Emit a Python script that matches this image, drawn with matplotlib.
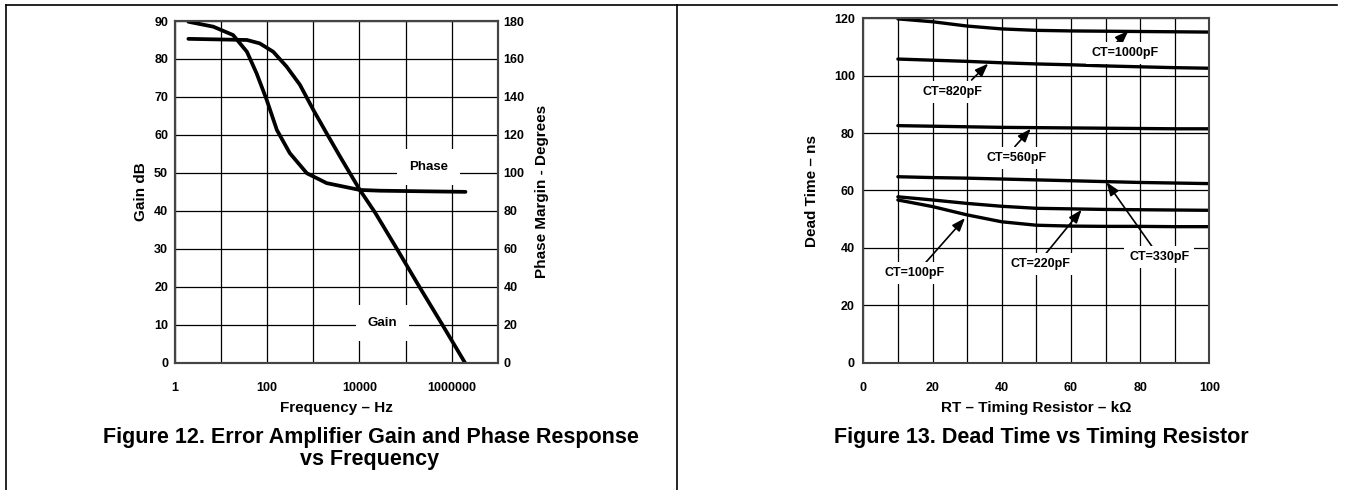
import numpy as np
import matplotlib
matplotlib.use("Agg")
import matplotlib.pyplot as plt
from matplotlib.lines import Line2D

plt.rcParams['font.family'] = ['Liberation Sans', 'DejaVu Sans']
plt.rcParams['font.weight'] = 'bold'

# Figure 12 data
gain_freq = [1.95, 36.3, 69, 135, 263, 513, 1000, 1950, 3800, 10230, 22000, 65000, 200000, 630000, 1950000]
gain_db = [85.3, 85.0, 84.1, 81.9, 78.0, 73.2, 66.6, 60.4, 54.3, 45.5, 39.5, 30.0, 20.0, 10.0, 0.0]
phase_freq = [1.95, 6.8, 18.2, 36.3, 58.9, 97.7, 162, 309, 724, 1950, 10230, 28200, 2000000]
phase_deg = [179.6, 177.0, 172.6, 163.8, 152.4, 138.4, 122.6, 110.4, 99.8, 94.6, 91.0, 90.6, 90.0]
freq_ticks = [1, 10, 100, 1000, 10000, 100000, 1000000, 10000000]
freq_labels = ['1', '', '100', '', '10000', '', '1000000', '']

# Figure 13 data
rt = [10, 20, 30, 40, 50, 60, 70, 80, 90, 100]
dead_time = {
    'CT=1000pF': [119.8, 118.8, 117.3, 116.3, 115.8, 115.6, 115.5, 115.4, 115.3, 115.2],
    'CT=820pF': [105.8, 105.4, 105.0, 104.5, 104.1, 103.8, 103.4, 103.1, 102.8, 102.6],
    'CT=560pF': [82.6, 82.4, 82.2, 82.0, 81.9, 81.8, 81.7, 81.6, 81.5, 81.5],
    'CT=330pF': [64.8, 64.5, 64.3, 64.0, 63.7, 63.4, 63.1, 62.8, 62.6, 62.4],
    'CT=220pF': [57.8, 56.7, 55.5, 54.5, 53.8, 53.6, 53.4, 53.3, 53.2, 53.1],
    'CT=100pF': [56.7, 54.4, 51.5, 49.1, 47.9, 47.6, 47.5, 47.5, 47.4, 47.4],
}
# label position, arrow tail, arrow tip
ct_notes = {
    'CT=1000pF': [(75.6, 107.8), (72.7, 111.0), (76.6, 115.6)],
    'CT=820pF': [(25.8, 94.4), (31.3, 98.5), (36.1, 104.2)],
    'CT=560pF': [(44.3, 71.2), (43.8, 75.3), (48.4, 81.5)],
    'CT=330pF': [(85.5, 36.9), (83.8, 39.9), (70.3, 62.9)],
    'CT=220pF': [(51.3, 34.4), (52.0, 36.9), (63.1, 53.3)],
    'CT=100pF': [(14.9, 31.4), (17.8, 34.6), (29.4, 50.4)],
}

W, H = 1349, 490
fig = plt.figure(figsize=(W / 100, H / 100), dpi=100)


def px_axes(x0, y0, x1, y1):
    return fig.add_axes([x0 / W, 1 - y1 / H, (x1 - x0) / W, (y1 - y0) / H])


def style(ax):
    for s in ax.spines.values():
        s.set_color('#444444')
        s.set_linewidth(1.5)
    ax.tick_params(length=0, labelsize=9)


# ---- Figure 12 ----
ax1 = px_axes(175, 21, 497.7, 362.7)
ax1.set_xscale('log')
ax1.set_xlim(1, 1e7)
ax1.set_ylim(0, 90)
ax1.set_xticks(freq_ticks)
ax1.set_xticklabels(freq_labels)
ax1.minorticks_off()
ax1.set_yticks(np.arange(0, 91, 10))
ax1.grid(True, color='black', lw=0.9)
style(ax1)
ax1.tick_params(axis='x', pad=14)
ax1.tick_params(axis='y', pad=5)
ax1.plot(gain_freq, gain_db, color='black', lw=2.7, solid_capstyle='round')
ax1.set_xlabel('Frequency – Hz', fontsize=11, fontweight='bold', labelpad=5)
ax1.set_ylabel('Gain dB', fontsize=11, fontweight='bold', labelpad=4)

ax2 = ax1.twinx()
ax2.set_ylim(0, 180)
ax2.set_yticks(np.arange(0, 181, 20))
style(ax2)
ax2.tick_params(axis='y', pad=4)
ax2.plot(phase_freq, phase_deg, color='black', lw=2.7, solid_capstyle='round')
ax2.set_ylabel('Phase Margin - Degrees', fontsize=11, fontweight='bold', labelpad=8)
box = dict(boxstyle='square,pad=0.9', fc='white', ec='none')
ax2.text(3.1e5, 103.2, 'Phase', fontsize=9.5, ha='center', va='center', bbox=box)
ax2.text(3.2e4, 21.0, 'Gain', fontsize=9.5, ha='center', va='center', bbox=box)

fig.text(371 / W, 1 - 437 / H, 'Figure 12. Error Amplifier Gain and Phase Response',
         fontsize=15.5, fontweight='bold', ha='center', va='center')
fig.text(370 / W, 1 - 459 / H, 'vs Frequency',
         fontsize=15.5, fontweight='bold', ha='center', va='center')

# ---- Figure 13 ----
ax3 = px_axes(863.3, 18.3, 1209.3, 362.7)
ax3.set_xlim(0, 100)
ax3.set_ylim(0, 120)
ax3.set_xticks(np.arange(0, 101, 10))
ax3.set_xticklabels([str(v) if v % 20 == 0 else '' for v in range(0, 101, 10)])
ax3.set_yticks(np.arange(0, 121, 20))
ax3.grid(True, color='black', lw=0.9)
style(ax3)
ax3.tick_params(axis='x', pad=14)
ax3.tick_params(axis='y', pad=6)
for name, vals in dead_time.items():
    ax3.plot(rt, vals, color='black', lw=2.4, solid_capstyle='round')
for name, (lab, tail, tip) in ct_notes.items():
    ax3.annotate('', xy=tip, xytext=tail,
                 arrowprops=dict(arrowstyle='-|>,head_length=0.8,head_width=0.3',
                                 color='black', lw=1.2, shrinkA=0, shrinkB=0))
    ax3.text(lab[0], lab[1], name, fontsize=9, ha='center', va='center',
             bbox=dict(boxstyle='square,pad=0.4', fc='white', ec='none'))
ax3.set_xlabel('RT – Timing Resistor – kΩ', fontsize=11, fontweight='bold', labelpad=5)
ax3.set_ylabel('Dead Time – ns', fontsize=11, fontweight='bold', labelpad=11)

fig.text(1041 / W, 1 - 437 / H, 'Figure 13. Dead Time vs Timing Resistor',
         fontsize=15.5, fontweight='bold', ha='center', va='center')

# page frame lines
for xs, ys in [((6, 1337), (5, 5)), ((6, 6), (5, 490)), ((677, 677), (5, 490))]:
    fig.add_artist(Line2D([x / W for x in xs], [1 - y / H for y in ys],
                          color='black', lw=1.2, transform=fig.transFigure))

fig.savefig('out.png', dpi=100)
